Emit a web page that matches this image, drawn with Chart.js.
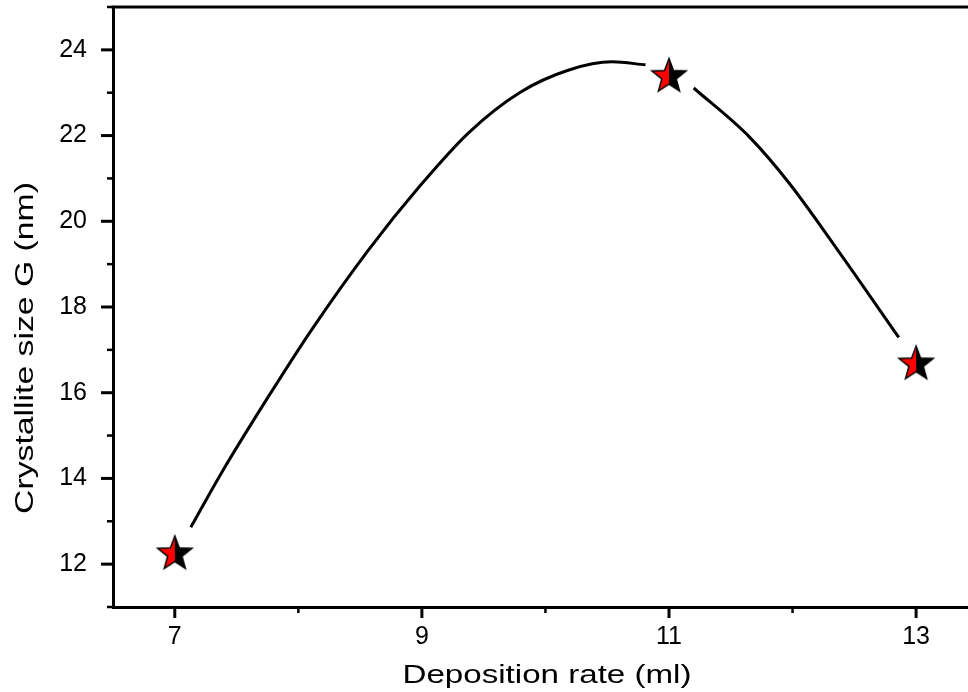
<!DOCTYPE html>
<html>
<head>
<meta charset="utf-8">
<script src="https://cdn.jsdelivr.net/npm/chart.js@4"></script>
<style>
  body { margin: 0; background: #fff; }
  #wrap { width: 968px; height: 692px; position: relative; }
</style>
</head>
<body>
<div id="wrap"><canvas id="myChart"></canvas></div>
<script>
// measured points
var depositionRate = [7, 11, 13];
var crystalliteSize = [12.28, 23.42, 16.71];

// smooth fit curve (null = gap around the marker at 11)
var fitX = [7.13, 7.38, 7.76, 8.11, 8.57, 8.98, 9.38, 9.79, 10.19, 10.54, 10.81, 11.0, 11.2, 11.65, 11.97, 12.38, 12.86];
var fitY = [12.86, 14.14, 15.92, 17.48, 19.34, 20.81, 22.07, 23.0, 23.53, 23.72, 23.65, null, 23.11, 21.97, 20.9, 19.27, 17.29];

var xTickLabels = [7, 9, 11, 13];
var yTickLabels = [12, 14, 16, 18, 20, 22, 24];

var xTitle = "Deposition rate (ml)";
var yTitle = "Crystallite size G (nm)";

var fontName = "'Liberation Sans', Arial, sans-serif";

// half red / half black star marker
function makeStar(r) {
  var size = Math.ceil(r * 2 + 4);
  var c = document.createElement("canvas");
  c.width = size;
  c.height = size;
  var g = c.getContext("2d");
  var cx = size / 2, cy = size / 2 + r * 0.1;
  g.beginPath();
  for (var i = 0; i < 10; i++) {
    var rad = i % 2 === 0 ? r : r * 0.42;
    var a = -Math.PI / 2 + i * Math.PI / 5;
    var px = cx + rad * Math.cos(a), py = cy + rad * Math.sin(a);
    if (i === 0) g.moveTo(px, py); else g.lineTo(px, py);
  }
  g.closePath();
  g.save();
  g.clip();
  g.fillStyle = "#ff0000";
  g.fillRect(0, 0, cx, size);
  g.fillStyle = "#000";
  g.fillRect(cx, 0, size - cx, size);
  g.restore();
  g.lineWidth = 1.5;
  g.strokeStyle = "#000";
  g.stroke();
  return c;
}
var star = makeStar(18);

var markers = [];
for (var i = 0; i < depositionRate.length; i++) {
  markers.push({ x: depositionRate[i], y: crystalliteSize[i] });
}
var fit = [];
for (var j = 0; j < fitX.length; j++) {
  fit.push({ x: fitX[j], y: fitY[j] });
}

// minor/major tick marks, top frame line and stretched axis titles
var decorPlugin = {
  id: "decor",
  afterDraw: function (chart) {
    var ctx = chart.ctx;
    var area = chart.chartArea;
    var xs = chart.scales.x, ys = chart.scales.y;
    ctx.save();
    ctx.strokeStyle = "#000";
    ctx.lineWidth = 3;
    ctx.beginPath();
    ctx.moveTo(area.left - 1.5, area.top);
    ctx.lineTo(area.right, area.top);
    ctx.stroke();

    xs.ticks.forEach(function (t) {
      var major = xTickLabels.indexOf(t.value) >= 0;
      var px = xs.getPixelForValue(t.value);
      ctx.lineWidth = major ? 3 : 2.5;
      ctx.beginPath();
      ctx.moveTo(px, area.bottom);
      ctx.lineTo(px, area.bottom + (major ? 11 : 6));
      ctx.stroke();
    });
    ys.ticks.forEach(function (t) {
      var major = yTickLabels.indexOf(t.value) >= 0;
      var py = ys.getPixelForValue(t.value);
      ctx.lineWidth = major ? 3 : 2.5;
      ctx.beginPath();
      ctx.moveTo(area.left, py);
      ctx.lineTo(area.left - (major ? 12 : 6), py);
      ctx.stroke();
    });

    ctx.fillStyle = "#000";
    ctx.font = "25px " + fontName;
    ctx.textAlign = "center";
    ctx.textBaseline = "alphabetic";

    ctx.save();
    ctx.translate(547, 683);
    ctx.scale(1.325, 1);
    ctx.fillText(xTitle, 0, 0);
    ctx.restore();

    ctx.save();
    ctx.translate(33, 348);
    ctx.rotate(-Math.PI / 2);
    ctx.scale(1.35, 1);
    ctx.fillText(yTitle, 0, 0);
    ctx.restore();

    ctx.restore();
  }
};

var myChart = document.getElementById("myChart").getContext("2d");
var chart = new Chart(myChart, {
  type: "scatter",
  data: {
    datasets: [
      {
        label: "Crystallite size",
        data: markers,
        showLine: false,
        pointStyle: star,
        pointRadius: 18,
      },
      {
        label: "Fit",
        data: fit,
        showLine: true,
        spanGaps: false,
        borderColor: "#000",
        borderWidth: 3,
        cubicInterpolationMode: "monotone",
        pointRadius: 0,
        fill: false,
      },
    ],
  },
  options: {
    responsive: true,
    maintainAspectRatio: false,
    animation: false,
    layout: { autoPadding: false, padding: { top: 7, right: 0, left: 0, bottom: 0 } },
    plugins: {
      legend: { display: false },
      tooltip: { enabled: false },
    },
    scales: {
      x: {
        type: "linear",
        min: 6.5,
        max: 13.42,
        afterFit: function (s) {
          s.height = 85;
          s.paddingLeft = 0;
          s.paddingRight = 0;
        },
        grid: { display: false },
        border: { display: true, color: "#000", width: 3 },
        ticks: {
          stepSize: 1,
          includeBounds: false,
          autoSkip: false,
          maxRotation: 0,
          padding: 7,
          color: "#000",
          font: { family: fontName, size: 25 },
          callback: function (v) {
            return xTickLabels.indexOf(v) >= 0 ? String(v) : "";
          },
        },
      },
      y: {
        type: "linear",
        min: 11,
        max: 25,
        afterFit: function (s) {
          s.width = 113;
          s.paddingTop = 0;
          s.paddingBottom = 0;
        },
        grid: { display: false },
        border: { display: true, color: "#000", width: 3 },
        ticks: {
          stepSize: 1,
          includeBounds: false,
          autoSkip: false,
          padding: 18,
          color: "#000",
          font: { family: fontName, size: 25 },
          callback: function (v) {
            return yTickLabels.indexOf(v) >= 0 ? String(v) : "";
          },
        },
      },
    },
  },
  plugins: [decorPlugin],
});
</script>
</body>
</html>
